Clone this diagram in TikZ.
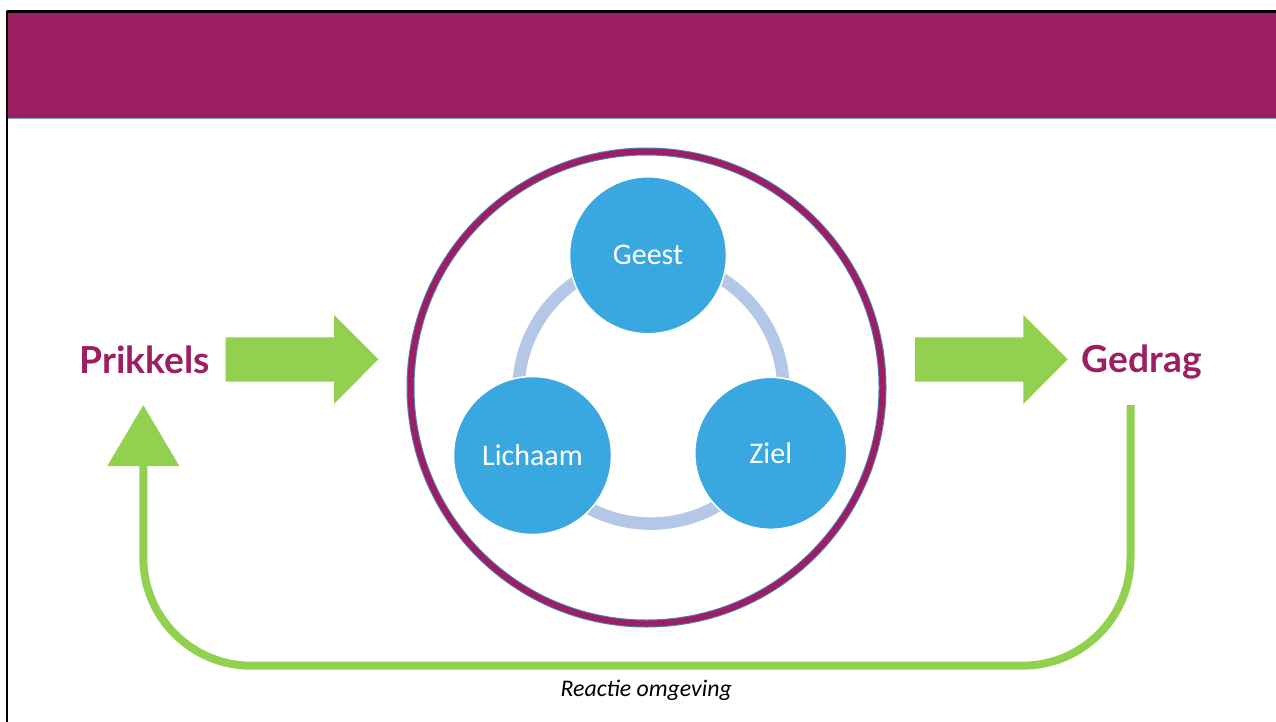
\documentclass[tikz,border=0pt]{standalone}
\usepackage{fontspec}
\setmainfont{Carlito}
\newfontfamily\latofont{Lato}
\usetikzlibrary{arrows.meta}
\definecolor{paars}{RGB}{155,31,98}
\definecolor{groen}{RGB}{146,208,80}
\definecolor{bolblauw}{RGB}{58,168,224}
\definecolor{lichtblauw}{RGB}{180,199,231}
\definecolor{randblauw}{RGB}{79,129,189}
\begin{document}
\begin{tikzpicture}[x=1pt,y=-1pt,line join=round,
	bol/.style={circle,fill=bolblauw,draw=white,line width=1.5pt,inner sep=0pt,text=white,font=\fontsize{30}{36}\selectfont},
	woord/.style={text=paars,inner sep=0pt,font=\latofont\bfseries\fontsize{37.2}{44}\selectfont},
	blokpijl/.style={fill=groen},
	terug/.style={draw=groen,line width=8pt,rounded corners=108pt}]
	\useasboundingbox (0,0) rectangle (1276,722);
	%Kop
	\fill[paars] (8.4,12.5) rectangle (1280,117.7);
	\draw[randblauw!70,line width=1.5pt] (8.4,118.6)--(1280,118.6);
	\draw[black,line width=2.5pt] (7.2,730)--(7.2,11.3)--(1280,11.3);
	%Grote cirkel
	\coordinate (M) at (646.5,387.5);
	\draw[randblauw,line width=8pt] (M) circle(236);
	\draw[paars,line width=6pt] (M) circle(236);
	%Ring
	\draw[lichtblauw,line width=12.5pt] (651,391) circle(132.6);
	%Geest, lichaam en ziel
	\node[bol,minimum size=157pt] (geest) at (648,255.3) {Geest};
	\node[bol,minimum size=158pt] (lichaam) at (532.5,455.5) {Lichaam};
	\node[bol,minimum size=152pt] (ziel) at (770.8,453.3) {Ziel};
	%Prikkels en gedrag
	\node[woord,anchor=base] (prikkels) at (145,373.3) {Prikkels};
	\node[woord,anchor=base] (gedrag) at (1141.7,372.7) {Gedrag};
	%Blokpijlen
	\fill[blokpijl] (225.7,337.3)--(334,337.3)--(334,315)--(378.3,359.3)--(334,404)--(334,381.7)--(225.7,381.7)--cycle;
	\fill[blokpijl] (915,337.3)--(1023.3,337.3)--(1023.3,315)--(1067.7,359.3)--(1023.3,404)--(1023.3,381.7)--(915,381.7)--cycle;
	%Reactie omgeving
	\coordinate (terugA) at (1130.5,405);
	\coordinate (terugB) at (143.3,405);
	\draw[terug,-{Triangle[width=70pt,length=61pt]}] (terugA)|-(143.3,665.7)--(terugB);
	\node[anchor=base,inner sep=0pt,font=\itshape\fontsize{23.8}{28}\selectfont] (reactie) at (646.2,696.7) {Reactie omgeving};
\end{tikzpicture}
\end{document}
